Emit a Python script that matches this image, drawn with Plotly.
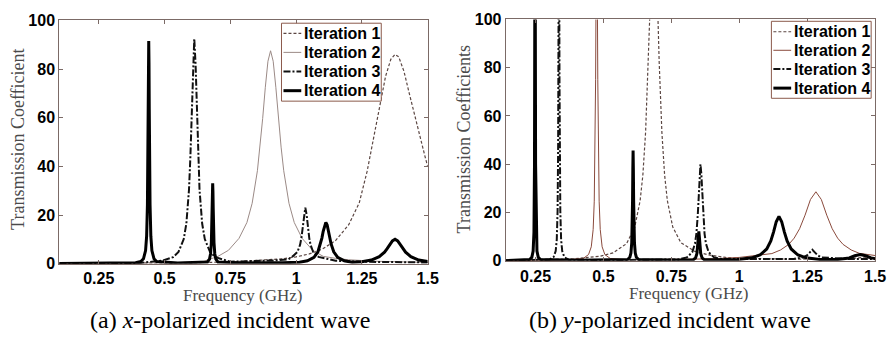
import plotly.graph_objects as go

# ---------------- (a) x-polarized incident wave ----------------
freq_a_it1 = [0.10, 0.40, 0.60, 0.75, 0.85, 0.95, 1.00, 1.05, 1.10, 1.15, 1.20, 1.24, 1.27,
              1.30, 1.32, 1.34, 1.36, 1.376, 1.39, 1.41, 1.43, 1.45, 1.47, 1.49, 1.50]
trans_a_it1 = [0.1, 0.2, 0.4, 0.7, 1.2, 2.0, 2.8, 4.0, 6.0, 9.5, 16, 25, 38,
               55, 67, 77, 84, 86, 85, 79, 70, 61, 52, 44, 40]

freq_a_it2 = [0.10, 0.40, 0.55, 0.65, 0.703, 0.743, 0.783, 0.813, 0.833, 0.853, 0.863, 0.873,
              0.883, 0.893, 0.903, 0.913, 0.923, 0.933, 0.943, 0.953, 0.973, 0.993, 1.023,
              1.063, 1.103, 1.15, 1.20, 1.30, 1.40, 1.50]
trans_a_it2 = [0.1, 0.2, 0.4, 1.0, 3.0, 5.5, 10.4, 16.9, 24.8, 38.2, 47.9, 59.7,
               72.5, 83.2, 87.5, 83.2, 72.5, 59.7, 47.9, 38.2, 24.8, 16.9, 10.4,
               5.5, 3.0, 2.2, 1.6, 1.0, 0.7, 0.5]

freq_a_it3 = [0.10, 0.40, 0.493, 0.533, 0.553, 0.573, 0.583, 0.593, 0.598, 0.603, 0.608, 0.613,
              0.618, 0.623, 0.628, 0.633, 0.643, 0.653, 0.673, 0.693, 0.75, 0.85, 0.93, 0.97,
              0.985, 1.005, 1.015, 1.02, 1.025, 1.03, 1.035, 1.04, 1.045, 1.05, 1.055, 1.065,
              1.085, 1.15, 1.25, 1.35, 1.50]
trans_a_it3 = [0.1, 0.2, 1.3, 2.7, 4.8, 10.1, 16.5, 30.4, 43.1, 61.3, 82, 92.5,
               82, 61.3, 43.1, 30.4, 16.5, 10.1, 4.8, 2.7, 0.8, 1.0, 1.4, 1.8,
               2.8, 4.8, 7.7, 10.5, 14.8, 20.1, 23, 20.1, 14.8, 10.5, 7.7, 4.8,
               2.8, 1.2, 0.8, 0.6, 0.5]

freq_a_it4 = [0.10, 0.35, 0.39, 0.41, 0.42, 0.428, 0.432, 0.435, 0.437, 0.438, 0.439, 0.44,
              0.441, 0.442, 0.443, 0.445, 0.448, 0.452, 0.46, 0.47, 0.55, 0.65,
              0.663, 0.671, 0.675, 0.678, 0.68, 0.681, 0.682, 0.683, 0.684, 0.685, 0.686,
              0.688, 0.691, 0.695, 0.703, 0.80, 0.95, 1.013, 1.043, 1.068, 1.083, 1.093,
              1.098, 1.103, 1.108, 1.113, 1.118, 1.123, 1.128, 1.133, 1.143, 1.158, 1.183,
              1.213, 1.25, 1.286, 1.316, 1.336, 1.346, 1.356, 1.366, 1.376, 1.386, 1.396,
              1.406, 1.416, 1.436, 1.466, 1.50]
trans_a_it4 = [0.05, 0.2, 0.4, 0.9, 2.0, 5.4, 11.3, 24.2, 45.75, 63.4, 82.4, 91.5,
               82.4, 63.4, 45.75, 24.2, 11.3, 5.4, 2.0, 0.9, 0.3, 0.5,
               0.7, 1.9, 4.1, 8.7, 16.5, 22.8, 29.7, 33, 29.7, 22.8, 16.5,
               8.7, 4.1, 1.9, 0.7, 0.3, 0.4, 0.6, 1.2, 2.6, 4.9, 8.1,
               10.5, 13.3, 15.9, 17, 15.9, 13.3, 10.5, 8.1, 4.9, 2.6, 1.2,
               0.6, 0.8, 1.5, 2.86, 4.74, 6.16, 7.83, 9.35, 10, 9.35, 7.83,
               6.16, 4.74, 2.86, 1.5, 0.86]

# ---------------- (b) y-polarized incident wave ----------------
freq_b_it1 = [0.14, 0.385, 0.485, 0.535, 0.585, 0.615, 0.635, 0.645, 0.655, 0.665, 0.675, 0.685,
              0.695, 0.705, 0.715, 0.725, 0.735, 0.755, 0.785, 0.835, 0.885, 0.95, 1.00,
              1.10, 1.20, 1.30, 1.40, 1.45, 1.50]
trans_b_it1 = [0.2, 0.8, 1.85, 3.3, 7.1, 13.9, 25, 35.6, 53.2, 82.4, 123, 147,
               123, 82.4, 53.2, 35.6, 25, 14, 7.5, 4.0, 2.5, 1.4, 1.0,
               0.8, 0.7, 0.8, 0.9, 1.3, 1.0]

freq_b_it2 = [0.14, 0.35, 0.425, 0.445, 0.455, 0.462, 0.466, 0.469, 0.471, 0.473, 0.475, 0.477,
              0.479, 0.481, 0.484, 0.488, 0.495, 0.505, 0.525, 0.60, 0.80, 0.90, 1.00, 1.05,
              1.12, 1.152, 1.182, 1.202, 1.222, 1.242, 1.262, 1.282, 1.302, 1.322, 1.342,
              1.362, 1.382, 1.412, 1.442, 1.50]
trans_b_it2 = [0.1, 0.3, 0.95, 2.6, 5.8, 13, 24.7, 46, 75, 120, 150, 120,
               75, 46, 24.7, 13, 5.8, 2.6, 0.95, 0.4, 0.5, 0.8, 1.4, 2.0,
               3.0, 4.5, 6.8, 9.4, 13.3, 18.9, 25.4, 28.6, 25.4, 18.9, 13.3,
               9.4, 6.8, 4.5, 3.1, 2.2]

freq_b_it3 = [0.14, 0.28, 0.301, 0.316, 0.324, 0.328, 0.331, 0.333, 0.334, 0.335, 0.336, 0.337,
              0.338, 0.339, 0.341, 0.344, 0.348, 0.356, 0.371, 0.50, 0.70, 0.777, 0.807,
              0.827, 0.837, 0.842, 0.847, 0.851, 0.854, 0.857, 0.86, 0.863, 0.867, 0.872,
              0.877, 0.887, 0.907, 0.937, 1.00, 1.10, 1.20, 1.234, 1.249, 1.259, 1.269,
              1.279, 1.289, 1.304, 1.40, 1.50]
trans_b_it3 = [0.1, 0.3, 0.5, 1.5, 4.05, 8.8, 20.7, 46, 75, 120, 150, 120,
               75, 46, 20.7, 8.8, 4.05, 1.5, 0.5, 0.3, 0.4, 0.55, 1.4,
               3.6, 7.2, 11.3, 18.8, 28.4, 36.3, 40, 36.3, 28.4, 18.8, 11.3,
               7.2, 3.6, 1.4, 0.7, 0.8, 0.8, 0.8, 1.4, 2.2, 3.4, 4.6,
               3.4, 2.2, 1.4, 0.8, 0.7]

freq_b_it4 = [0.14, 0.228, 0.236, 0.241, 0.244, 0.246, 0.247, 0.2475, 0.248, 0.2485, 0.249, 0.25,
              0.252, 0.255, 0.26, 0.268, 0.40, 0.55, 0.589, 0.597, 0.601, 0.604, 0.606, 0.607,
              0.608, 0.609, 0.61, 0.611, 0.612, 0.614, 0.617, 0.621, 0.629, 0.75, 0.831,
              0.839, 0.844, 0.847, 0.849, 0.851, 0.853, 0.855, 0.858, 0.863, 0.871, 0.95,
              0.996, 1.046, 1.076, 1.101, 1.116, 1.126, 1.136, 1.146, 1.156, 1.166, 1.176,
              1.191, 1.216, 1.246, 1.296, 1.36, 1.405, 1.425, 1.445, 1.465, 1.485, 1.50]
trans_b_it4 = [0.05, 0.5, 1.4, 4, 11.8, 40, 100, 160, 200, 160, 100, 40,
               11.8, 4, 1.4, 0.5, 0.2, 0.3, 0.55, 1.5, 3.2, 7.4, 16, 25,
               37.9, 45.7, 37.9, 25, 16, 7.4, 3.2, 1.5, 0.55, 0.3, 0.47,
               1.2, 3.0, 6.1, 9.8, 12.2, 9.8, 6.1, 3.0, 1.2, 0.47, 0.4,
               0.57, 1.25, 2.4, 4.9, 8.2, 11.9, 16.2, 18.4, 16.2, 11.9, 8.2,
               4.9, 2.4, 1.25, 0.57, 0.5, 1.2, 2.1, 2.6, 2.1, 1.2, 0.9]

series_names = ["Iteration 1", "Iteration 2", "Iteration 3", "Iteration 4"]
x_ticks = [0.25, 0.5, 0.75, 1.0, 1.25, 1.5]
x_tick_text = ["0.25", "0.5", "0.75", "1", "1.25", "1.5"]
y_ticks = [0, 20, 40, 60, 80, 100]
y_title_a = "Transmission Coefficient"
y_title_b = "Transmission Coefficients"
x_title = "Frequency (GHz)"
caption_a = "(a) <i>x</i>-polarized incident wave"
caption_b = "(b) <i>y</i>-polarized incident wave"

W, H = 895, 343
SANS = "Liberation Sans, Arial, sans-serif"
SERIF = "Liberation Serif, Times New Roman, serif"
FRAME = "#7b6a66"


def px(x):
    return x / W


def py(y):
    return 1 - y / H


styles_a = [
    dict(color="#5b4642", width=1.2, dash="3px,2px"),
    dict(color="#9b8a86", width=1.0),
    dict(color="#111111", width=2.0, dash="7px,2px,2px,2px"),
    dict(color="#000000", width=3.0),
]
styles_b = [
    dict(color="#5b4642", width=1.2, dash="3px,2px"),
    dict(color="#8a4a3c", width=1.0),
    dict(color="#111111", width=2.0, dash="7px,2px,2px,2px"),
    dict(color="#000000", width=3.0),
]

fig = go.Figure()

data_a = [(freq_a_it1, trans_a_it1), (freq_a_it2, trans_a_it2),
          (freq_a_it3, trans_a_it3), (freq_a_it4, trans_a_it4)]
data_b = [(freq_b_it1, trans_b_it1), (freq_b_it2, trans_b_it2),
          (freq_b_it3, trans_b_it3), (freq_b_it4, trans_b_it4)]

for name, (f, t), st in zip(series_names, data_a, styles_a):
    fig.add_trace(go.Scatter(x=f, y=t, mode="lines", name=name, line=st,
                             xaxis="x", yaxis="y", showlegend=False))
for name, (f, t), st in zip(series_names, data_b, styles_b):
    fig.add_trace(go.Scatter(x=f, y=t, mode="lines", name=name, line=st,
                             xaxis="x2", yaxis="y2", showlegend=False))

axis_common = dict(
    showgrid=False, zeroline=False, showline=True, linecolor=FRAME, linewidth=1,
    mirror="ticks", ticks="inside", ticklen=4, tickcolor=FRAME,
    tickfont=dict(family=SANS, size=16, color="#000000", weight="bold"),
)

fig.update_layout(
    width=W, height=H, autosize=False,
    margin=dict(l=0, r=0, t=0, b=0),
    paper_bgcolor="white", plot_bgcolor="white",
    xaxis=dict(domain=[px(60), px(433)], range=[0.1, 1.5], anchor="y",
               tickvals=x_ticks, ticktext=x_tick_text, ticklabelstandoff=0, **axis_common),
    yaxis=dict(domain=[py(269), py(13)], range=[0, 100], anchor="x",
               tickvals=y_ticks, **axis_common),
    xaxis2=dict(domain=[px(512), px(886)], range=[0.14, 1.5], anchor="y2",
                tickvals=x_ticks, ticktext=x_tick_text, ticklabelstandoff=1, **axis_common),
    yaxis2=dict(domain=[py(266), py(12)], range=[0, 100], anchor="x2",
                tickvals=y_ticks, **axis_common),
)

annotations = []
shapes = []

# axis titles and captions
for cx, ty, ytitle, ycx, cap, capx in [
    (246, 303, y_title_a, 18, caption_a, 233),
    (697, 300, y_title_b, 470, caption_b, 678),
]:
    annotations.append(dict(x=px(cx), y=py(ty), xref="paper", yref="paper", text=x_title,
                            showarrow=False, xanchor="center", yanchor="middle",
                            font=dict(family=SERIF, size=17, color="#4a4a4a")))
    annotations.append(dict(x=px(ycx), y=py(138), xref="paper", yref="paper", text=ytitle,
                            showarrow=False, xanchor="center", yanchor="middle", textangle=-90,
                            font=dict(family=SERIF, size=18, color="#4a4a4a")))
    annotations.append(dict(x=px(capx), y=py(328), xref="paper", yref="paper", text=cap,
                            showarrow=False, xanchor="center", yanchor="middle",
                            font=dict(family=SERIF, size=24, color="#000000")))

# legend boxes drawn in paper space
legend_boxes = [
    dict(x0=285, x1=386, y0=16, y1=98, rows=[26.7, 46.7, 66.7, 87.0], lx0=287, lx1=305,
         tx=306, styles=styles_a),
    dict(x0=781, x1=882, y0=14, y1=95, rows=[25.0, 44.5, 64.3, 84.3], lx0=783, lx1=801,
         tx=802, styles=styles_b),
]
for lb in legend_boxes:
    shapes.append(dict(type="rect", xref="paper", yref="paper",
                       x0=px(lb["x0"]), x1=px(lb["x1"]), y0=py(lb["y1"]), y1=py(lb["y0"]),
                       line=dict(color="#8b5a4b", width=1), fillcolor="white", layer="above"))
    for name, ry, st in zip(series_names, lb["rows"], lb["styles"]):
        line_style = dict(color=st["color"], width=st["width"])
        if "dash" in st:
            line_style["dash"] = st["dash"]
        shapes.append(dict(type="line", xref="paper", yref="paper",
                           x0=px(lb["lx0"]), x1=px(lb["lx1"]), y0=py(ry), y1=py(ry),
                           line=line_style, layer="above"))
        annotations.append(dict(x=px(lb["tx"]), y=py(ry), xref="paper", yref="paper",
                                text=name, showarrow=False, xanchor="left", yanchor="middle",
                                font=dict(family=SANS, size=16, color="#000000", weight="bold")))

fig.update_layout(annotations=annotations, shapes=shapes)

fig.write_html("out.html")
